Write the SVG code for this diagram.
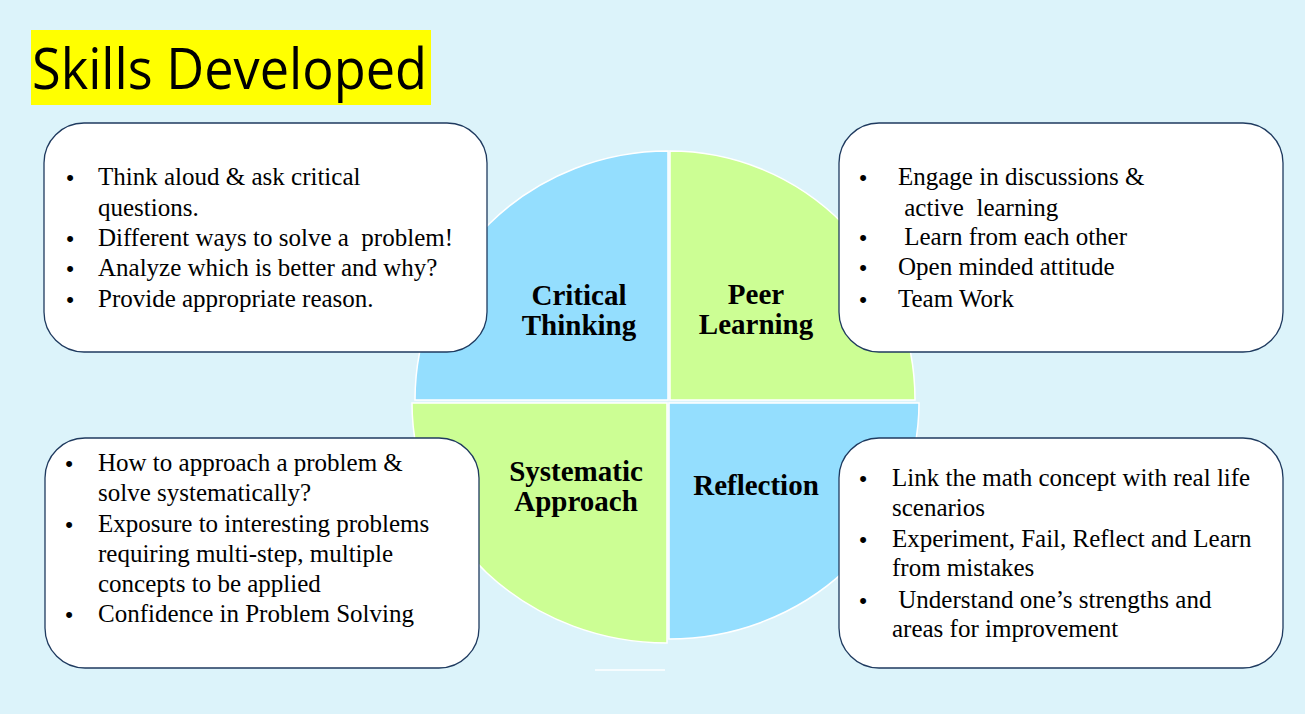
<svg xmlns="http://www.w3.org/2000/svg" width="1305" height="714" viewBox="0 0 1305 714">
<style>
.q{stroke:#ffffff;stroke-width:1.5}
.blue{fill:#94DEFE}
.green{fill:#CCFE94}
.box{fill:#ffffff;stroke:#1F3A5F;stroke-width:1.3}
.t{font-family:"Liberation Serif","Times New Roman",serif;font-size:25px;fill:#000;white-space:pre}
.b{font-family:"Liberation Sans",Arial,sans-serif;font-size:22px;fill:#000;text-anchor:middle}
.lab{font-family:"Liberation Serif","Times New Roman",serif;font-weight:bold;font-size:29px;fill:#000;text-anchor:middle}
</style>
<rect x="0" y="0" width="1305" height="714" fill="#DCF3FA"/>
<g id="title">
<rect x="31" y="30" width="400" height="75" fill="#FFFF00"/>
<text x="32" y="89" font-family="'Open Sans','Noto Sans',sans-serif" font-size="56" textLength="395" lengthAdjust="spacingAndGlyphs" fill="#000">Skills Developed</text>
</g>
<g id="wheel">
<g id="critical-thinking">
<path class="q blue" d="M668,400 L415,400 A253,249 0 0 1 668,151 Z"/>
<text class="lab" x="579" y="305">Critical</text>
<text class="lab" x="579" y="335">Thinking</text>
</g>
<g id="peer-learning">
<path class="q green" d="M670,400 L670,151 A245,249 0 0 1 915,400 Z"/>
<text class="lab" x="756" y="304" font-size="30">Peer</text>
<text class="lab" x="756" y="334" font-size="30">Learning</text>
</g>
<g id="systematic-approach">
<path class="q green" d="M667,403 L412,403 A255,240 0 0 0 667,643 Z"/>
</g>
<g id="reflection">
<path class="q blue" d="M669,403 L669,639 A250,236 0 0 0 919,403 Z"/>
</g>
<line x1="595" y1="670" x2="665" y2="670" stroke="#ffffff" stroke-width="1.5"/>
</g>
<g id="connectors"></g>
<g id="box-critical">
<rect class="box" x="44" y="123" width="443" height="229" rx="40" ry="40"/>
<text class="b" x="70" y="185">•</text>
<text class="t" x="98" y="185">Think aloud &amp; ask critical</text>
<text class="t" x="98" y="216">questions.</text>
<text class="b" x="70" y="246">•</text>
<text class="t" x="98" y="246">Different ways to solve a  problem!</text>
<text class="b" x="70" y="276">•</text>
<text class="t" x="98" y="276">Analyze which is better and why?</text>
<text class="b" x="70" y="307">•</text>
<text class="t" x="98" y="307">Provide appropriate reason.</text>
</g>
<g id="box-peer">
<rect class="box" x="839" y="123" width="444" height="229" rx="40" ry="40"/>
<text class="b" x="863" y="185">•</text>
<text class="t" x="898" y="185">Engage in discussions &amp;</text>
<text class="t" x="898" y="216"> active  learning</text>
<text class="b" x="863" y="245">•</text>
<text class="t" x="898" y="245"> Learn from each other</text>
<text class="b" x="863" y="275">•</text>
<text class="t" x="898" y="275">Open minded attitude</text>
<text class="b" x="863" y="307">•</text>
<text class="t" x="898" y="307">Team Work</text>
</g>
<g id="box-systematic">
<rect class="box" x="45" y="438" width="434" height="230" rx="40" ry="40"/>
<text class="b" x="69" y="471">•</text>
<text class="t" x="98" y="471">How to approach a problem &amp;</text>
<text class="t" x="98" y="501">solve systematically?</text>
<text class="b" x="69" y="532">•</text>
<text class="t" x="98" y="532">Exposure to interesting problems</text>
<text class="t" x="98" y="562">requiring multi-step, multiple</text>
<text class="t" x="98" y="592">concepts to be applied</text>
<text class="b" x="69" y="622">•</text>
<text class="t" x="98" y="622">Confidence in Problem Solving</text>
</g>
<g id="box-reflection">
<rect class="box" x="839" y="438" width="444" height="230" rx="40" ry="40"/>
<text class="b" x="863" y="486">•</text>
<text class="t" x="892" y="486">Link the math concept with real life</text>
<text class="t" x="892" y="516">scenarios</text>
<text class="b" x="863" y="547">•</text>
<text class="t" x="892" y="547">Experiment, Fail, Reflect and Learn</text>
<text class="t" x="892" y="576">from mistakes</text>
<text class="b" x="863" y="608">•</text>
<text class="t" x="892" y="608"> Understand one’s strengths and</text>
<text class="t" x="892" y="637">areas for improvement</text>
</g>
<g id="labels-lower">
<text class="lab" x="576" y="481">Systematic</text>
<text class="lab" x="576" y="511">Approach</text>
<text class="lab" x="756" y="495">Reflection</text>
</g>
</svg>
